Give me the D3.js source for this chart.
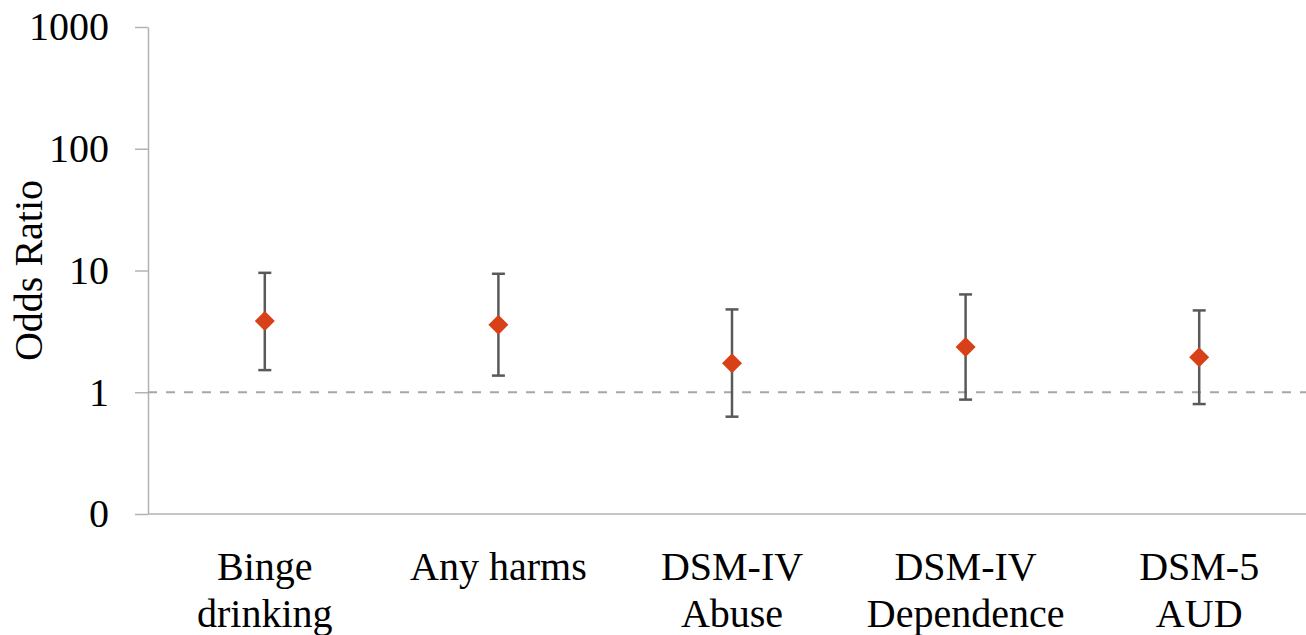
<!DOCTYPE html>
<html>
<head>
<meta charset="utf-8">
<script src="https://cdn.jsdelivr.net/npm/d3@7"></script>
<style>
  html, body { margin: 0; padding: 0; background: #fff; }
  text { font-family: "Liberation Serif", "Times New Roman", serif; fill: #000; }
</style>
</head>
<body>
<div id="chart"></div>
<script>
"use strict";

// data
const categories = [["Binge", "drinking"], ["Any harms"], ["DSM-IV", "Abuse"], ["DSM-IV", "Dependence"], ["DSM-5", "AUD"]];
const oddsRatio = [3.84, 3.59, 1.73, 2.35, 1.94];
const lowerCI = [1.52, 1.37, 0.63, 0.87, 0.80];
const upperCI = [9.57, 9.4, 4.79, 6.36, 4.70];
const tickValues = [0.1, 1, 10, 100, 1000];
const tickLabels = ["0", "1", "10", "100", "1000"];
const refValue = 1;

const WIDTH = 1306, HEIGHT = 635;
let margin = {top: 27, left: 148, bottom: 121, right: -10};

let svg = d3.select("#chart")
    .append("svg")
    .attr("width", WIDTH)
    .attr("height", HEIGHT);

let x = d3.scaleBand()
    .domain(d3.range(categories.length))
    .range([margin.left, WIDTH - margin.right]);

let y = d3.scaleLog()
    .domain([0.1, 1000])
    .range([HEIGHT - margin.bottom, margin.top]);

// y axis
let yAxis = svg.append("g")
    .attr("transform", "translate(" + margin.left + ",0)")
    .call(d3.axisLeft(y)
        .tickValues(tickValues)
        .tickFormat((d, i) => tickLabels[i])
        .tickSize(13)
        .tickPadding(26)
        .tickSizeOuter(0));
yAxis.select(".domain").attr("stroke", "#b3b3b3").attr("stroke-width", 1.5);
yAxis.selectAll(".tick line").attr("stroke", "#b3b3b3").attr("stroke-width", 1.5);
yAxis.selectAll(".tick text").style("font-size", "40px").attr("fill", "#000");

// x axis baseline
svg.append("line")
    .attr("x1", margin.left)
    .attr("x2", WIDTH)
    .attr("y1", y(0.1))
    .attr("y2", y(0.1))
    .attr("stroke", "#b3b3b3")
    .attr("stroke-width", 1.5);

// reference line at OR = 1
svg.append("line")
    .attr("x1", margin.left)
    .attr("x2", WIDTH)
    .attr("y1", y(refValue))
    .attr("y2", y(refValue))
    .attr("stroke", "#a6a6a6")
    .attr("stroke-width", 2)
    .attr("stroke-dasharray", "9,9");

// category labels
let labels = svg.append("g");
categories.forEach(function(lines, i) {
    let t = labels.append("text")
        .attr("text-anchor", "middle")
        .style("font-size", "40px")
        .attr("x", x(i) + x.bandwidth() / 2)
        .attr("y", 580);
    lines.forEach(function(l, j) {
        t.append("tspan")
            .attr("x", x(i) + x.bandwidth() / 2)
            .attr("dy", j === 0 ? 0 : 47)
            .text(l);
    });
});

// error bars
let cx = i => x(i) + x.bandwidth() / 2;
let bars = svg.append("g")
    .attr("stroke", "#595959")
    .attr("stroke-width", 2.5);
bars.selectAll(".whisker")
    .data(oddsRatio)
    .enter()
    .append("line")
    .attr("x1", (d, i) => cx(i))
    .attr("x2", (d, i) => cx(i))
    .attr("y1", (d, i) => y(lowerCI[i]))
    .attr("y2", (d, i) => y(upperCI[i]));
[lowerCI, upperCI].forEach(function(arr) {
    bars.selectAll(null)
        .data(arr)
        .enter()
        .append("line")
        .attr("x1", (d, i) => cx(i) - 6.5)
        .attr("x2", (d, i) => cx(i) + 6.5)
        .attr("y1", d => y(d))
        .attr("y2", d => y(d));
});

// point estimates
svg.append("g")
    .selectAll("path")
    .data(oddsRatio)
    .enter()
    .append("path")
    .attr("d", "M0,-10L10,0L0,10L-10,0Z")
    .attr("transform", (d, i) => "translate(" + cx(i) + "," + y(d) + ")")
    .attr("fill", "#d84118");

// y axis title
svg.append("text")
    .attr("text-anchor", "middle")
    .style("font-size", "40px")
    .attr("transform", "translate(42," + y(10) + ") rotate(-90)")
    .text("Odds Ratio");
</script>
</body>
</html>
